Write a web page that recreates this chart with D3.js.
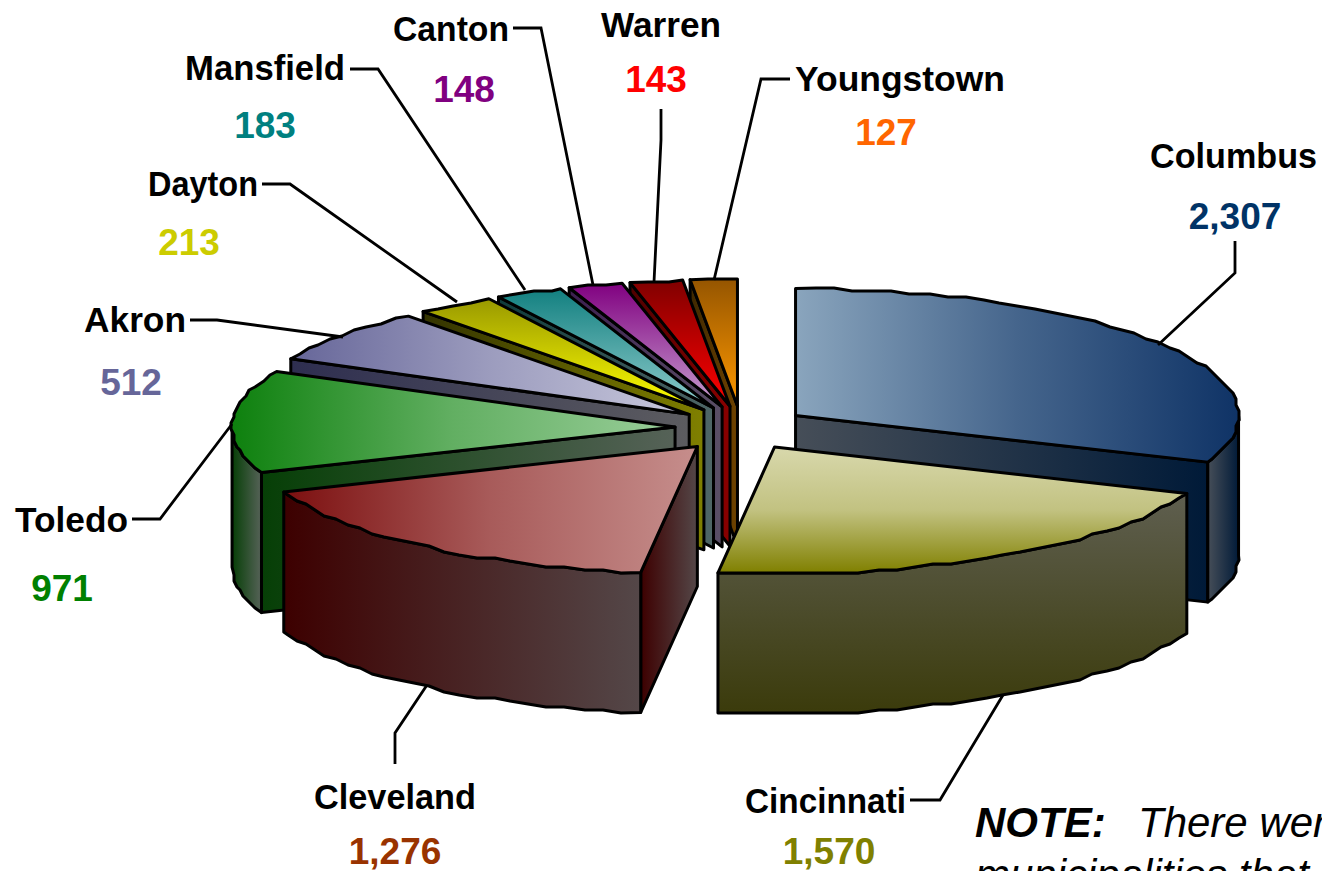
<!DOCTYPE html>
<html>
<head>
<meta charset="utf-8">
<script src="https://cdnjs.cloudflare.com/ajax/libs/d3/7.8.5/d3.min.js"></script>
<style>
    html, body { margin: 0; padding: 0; background: #fff; overflow: hidden; }
    svg { display: block; }
</style>
</head>
<body>
<svg id="chart"></svg>
<script>
    'use strict';

    var cities = ['Columbus', 'Cincinnati', 'Cleveland', 'Toledo', 'Akron', 'Dayton', 'Mansfield', 'Canton', 'Warren', 'Youngstown'];
    var counts = [2307, 1570, 1276, 971, 512, 213, 183, 148, 143, 127];

    // top face colours, then side wall colours
    var topFrom = ['#8aa5bd', '#d8d8ac', '#7c0f0f', '#0d800d', '#666699', '#999900', '#128080', '#800080', '#800000', '#955500'];
    var topTo = ['#0f3366', '#808000', '#c68e8c', '#9ace9a', '#c8c8dc', '#ffff00', '#8fcccc', '#c8a0d0', '#ff0000', '#ff9900'];
    var topMid = [0.56, 0.25, 0.6, 0.6, 0.55, 0.5, 0.5, 0.5, 0.5, 0.5];
    var wallFrom = ['#464e58', '#5f5f50', '#3d0000', '#063f06', '#2e2e50', '#333300', '#0f3b3b', '#3c1f50', '#500000', '#3e2800'];
    var wallTo = ['#001a38', '#3b3b0b', '#544748', '#566258', '#5c5c60', '#808000', '#4f6666', '#5a4f66', '#8a0000', '#6f4300'];
    var valueColors = ['#003366', '#808000', '#993300', '#008000', '#666699', '#cccc00', '#008080', '#800080', '#ff0000', '#ff6600'];
    var verticalTop = [false, true, false, false, false, true, true, true, true, true];
    var explode = [1, 1, 1.07, 1, 1, 1, 1, 1, 1, 1];

    // label layout: name left, name width, name baseline, value centre, value baseline
    var nameLeft = [1150, 745, 314, 15, 84, 148, 185, 393, 601, 795];
    var nameWidth = [167, 161, 162, 113, 102, 110, 160, 116, 120, 210];
    var nameBase = [168, 813, 809, 532, 332, 196, 80, 41, 37, 91];
    var valueX = [1235, 829, 395, 62, 131, 189, 265, 464, 656, 886];
    var valueBase = [229, 864, 864, 601, 395, 255, 138, 102, 92, 145];

    var leaders = [
        [[1235, 241], [1235, 273], [1158, 345]],
        [[910, 800], [940, 800], [1003, 695]],
        [[395, 764], [395, 733], [427, 685]],
        [[132, 519], [160, 519], [232, 424]],
        [[190, 320], [217, 320], [343, 337]],
        [[262, 184], [290, 184], [457, 302]],
        [[350, 69], [378, 69], [525, 290]],
        [[513, 28], [541, 28], [593, 285]],
        [[661, 109], [661, 140], [654, 282]],
        [[790, 79], [761, 79], [714, 280]]
    ];

    var width = 1322;
    var height = 871;
    var centerX = 741;
    var centerY = 428;
    var radiusX = 443;
    var radiusY = 127;
    var explodeX = 66;
    var explodeY = 22;
    var depth = 140;
    var snap = 3;

    var svg = d3.select('#chart').attr('width', width).attr('height', height);
    var defs = svg.append('defs');
    var font = '"Liberation Sans", Arial, sans-serif';

    var pie = d3.pie().sort(null).value(function (d) { return d; });
    var slices = pie(counts);
    var line = d3.line().curve(d3.curveLinear);

    function apexOf(d) {
        var mid = (d.startAngle + d.endAngle) / 2;
        var k = explode[d.index];
        return [centerX + k * explodeX * Math.sin(mid), centerY - k * explodeY * Math.cos(mid)];
    }

    function rimPoint(apex, a) {
        return [apex[0] + radiusX * Math.sin(a), apex[1] - radiusY * Math.cos(a)];
    }

    // the source rim is a coarse polygon, so sample it and snap to a rough grid
    function rimPoints(apex, from, to) {
        var pts = [rimPoint(apex, from)];
        var step = 2.5 * Math.PI / 180;
        for (var a = from + step; a < to - step / 2; a += step) {
            var p = rimPoint(apex, a);
            pts.push([Math.round(p[0] / snap) * snap, Math.round(p[1] / snap) * snap]);
        }
        pts.push(rimPoint(apex, to));
        return pts;
    }

    function drop(pts) {
        return pts.map(function (p) { return [p[0], p[1] + depth]; });
    }

    function gradient(id, from, to, pts, vertical, mid) {
        var xs = d3.extent(pts, function (p) { return p[0]; });
        var ys = d3.extent(pts, function (p) { return p[1]; });
        var g = defs.append('linearGradient')
            .attr('id', id)
            .attr('gradientUnits', 'userSpaceOnUse')
            .attr('x1', xs[0])
            .attr('y1', ys[0])
            .attr('x2', vertical ? xs[0] : xs[1])
            .attr('y2', vertical ? ys[1] : ys[0]);
        g.append('stop').attr('offset', 0).attr('stop-color', from);
        if (mid !== undefined) {
            g.append('stop').attr('offset', 0.5).attr('stop-color', d3.interpolateRgb(from, to)(mid));
        }
        g.append('stop').attr('offset', 1).attr('stop-color', to);
        return 'url(#' + id + ')';
    }

    function face(group, pts, fill) {
        group.append('path')
            .attr('d', line(pts) + 'Z')
            .attr('fill', fill)
            .attr('stroke', '#000')
            .attr('stroke-width', 3)
            .attr('stroke-linejoin', 'round');
    }

    function drawSlice(d) {
        var i = d.index;
        var apex = apexOf(d);
        var vertical = verticalTop[i];
        var group = svg.append('g').attr('class', 'slice').attr('data-city', cities[i]);
        var wall;

        // flat side on the start cut, seen on the left half of the pie
        if (Math.sin(d.startAngle) < -0.001) {
            wall = [apex, rimPoint(apex, d.startAngle)];
            wall = wall.concat(drop(wall).reverse());
            face(group, wall, gradient('start' + i, wallFrom[i], wallTo[i], wall, false));
        }
        // flat side on the end cut, seen on the right half
        if (Math.sin(d.endAngle) > 0.001) {
            wall = [apex, rimPoint(apex, d.endAngle)];
            wall = wall.concat(drop(wall).reverse());
            face(group, wall, gradient('end' + i, wallFrom[i], wallTo[i], wall, false));
        }
        // outer wall, only the part facing the viewer
        var from = Math.max(d.startAngle, Math.PI / 2);
        var to = Math.min(d.endAngle, 3 * Math.PI / 2);
        if (to > from) {
            var rim = rimPoints(apex, from, to);
            wall = rim.concat(drop(rim).reverse());
            face(group, wall, gradient('rim' + i, wallFrom[i], wallTo[i], wall, vertical));
        }

        var top = [apex].concat(rimPoints(apex, d.startAngle, d.endAngle));
        face(group, top, gradient('top' + i, topFrom[i], topTo[i], top, vertical, topMid[i]));
    }

    slices.slice()
        .sort(function (a, b) {
            return Math.cos((b.startAngle + b.endAngle) / 2) - Math.cos((a.startAngle + a.endAngle) / 2);
        })
        .forEach(drawSlice);

    svg.append('g').attr('class', 'leaders')
        .selectAll('path')
        .data(leaders)
        .enter().append('path')
        .attr('d', line)
        .attr('fill', 'none')
        .attr('stroke', '#000')
        .attr('stroke-width', 2.8);

    svg.append('g').attr('class', 'names')
        .selectAll('text')
        .data(cities)
        .enter().append('text')
        .attr('x', function (d, i) { return nameLeft[i]; })
        .attr('y', function (d, i) { return nameBase[i]; })
        .attr('textLength', function (d, i) { return nameWidth[i]; })
        .attr('lengthAdjust', 'spacingAndGlyphs')
        .attr('font-family', font)
        .attr('font-weight', 'bold')
        .attr('font-size', 35)
        .attr('fill', '#000')
        .text(function (d) { return d; });

    svg.append('g').attr('class', 'values')
        .selectAll('text')
        .data(counts)
        .enter().append('text')
        .attr('x', function (d, i) { return valueX[i]; })
        .attr('y', function (d, i) { return valueBase[i]; })
        .attr('text-anchor', 'middle')
        .attr('font-family', font)
        .attr('font-weight', 'bold')
        .attr('font-size', 37)
        .attr('fill', function (d, i) { return valueColors[i]; })
        .text(d3.format(','));

    var note = svg.append('text')
        .attr('x', 975)
        .attr('y', 837)
        .attr('font-family', font)
        .attr('font-style', 'italic')
        .attr('font-size', 42)
        .attr('xml:space', 'preserve');
    note.append('tspan').attr('font-weight', 'bold').text('NOTE:');
    note.append('tspan').attr('dx', 9).text('  There were');

    svg.append('text')
        .attr('x', 975)
        .attr('y', 889)
        .attr('font-family', font)
        .attr('font-style', 'italic')
        .attr('font-size', 42)
        .text('municipalities that');
</script>
</body>
</html>
